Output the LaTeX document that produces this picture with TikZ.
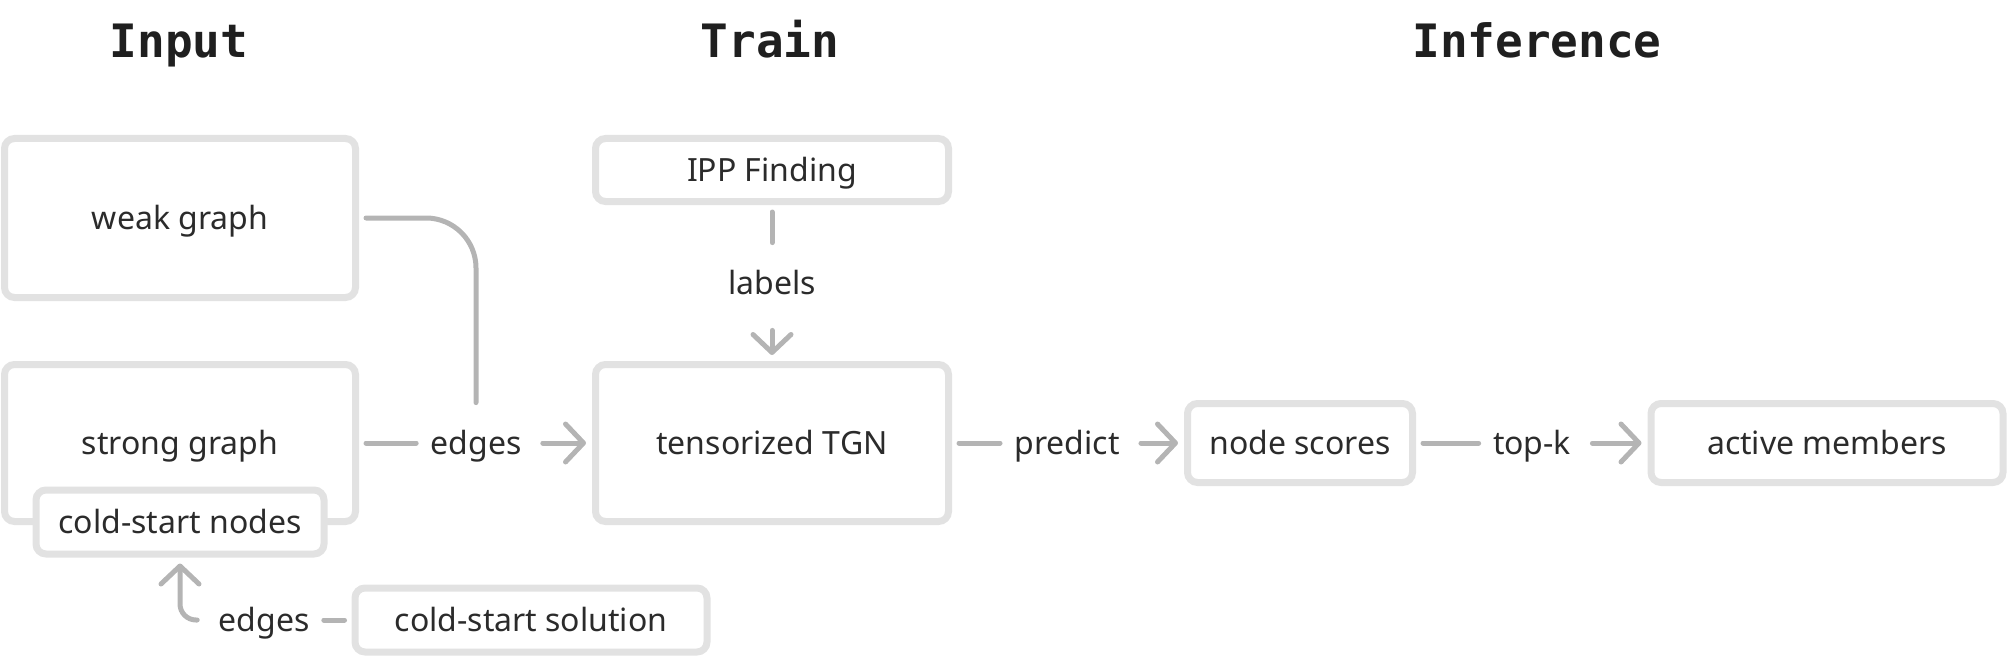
\documentclass[tikz,border=0pt]{standalone}
\usepackage{fontspec}
\setmainfont{Noto Sans}
\newfontfamily\titlefont{DejaVu Sans Mono}
\usetikzlibrary{arrows.meta,calc}
\definecolor{boxgray}{HTML}{E2E2E2}
\definecolor{linegray}{HTML}{B4B4B4}
\definecolor{txtgray}{HTML}{2B2B2B}
\tikzset{
  box/.style = {draw=boxgray, line width=3.5pt, rounded corners=5pt, fill=white,
    inner sep=0pt, text=txtgray, font=\fontsize{16}{18}\selectfont,
    text height=14pt, text depth=3pt},
  lbl/.style = {text=txtgray, font=\fontsize{16}{18}\selectfont,
    inner xsep=7pt, inner ysep=11.5pt, text height=14pt, text depth=3pt},
  conn/.style = {draw=linegray, line width=2.5pt, line cap=round, shorten <=3.5pt},
  arr/.style = {conn, -{Straight Barb[length=9pt,width=19pt,round]}, shorten >=3pt},
  title/.style = {font=\titlefont\bfseries\fontsize{23}{26}\selectfont, text=black!88, anchor=base}
}

\begin{document}
\begin{tikzpicture}[x=0.5pt,y=-0.5pt]
  \useasboundingbox (0,0) rectangle (2008,658);
  % titles
  \node[title] (tinput) at (179,58) {Input};
  \node[title] (ttrain) at (770,58) {Train};
  \node[title] (tinfer) at (1537,58) {Inference};
  % input
  \node[box, minimum width=175.5pt, minimum height=79.5pt] (weak) at (180,218) {weak graph};
  \node[box, minimum width=175.5pt, minimum height=78.5pt] (strong) at (180,443) {strong graph};
  \node[box, minimum width=144pt, minimum height=32pt] (csnodes) at (180,522) {cold-start nodes};
  \node[box, minimum width=176pt, minimum height=32pt] (cssol) at (531,620) {cold-start solution};
  % train
  \node[box, minimum width=176.5pt, minimum height=31.5pt] (ipp) at (772,170) {IPP Finding};
  \node[box, minimum width=176.5pt, minimum height=78.5pt] (tgn) at (772,443) {tensorized TGN};
  % inference
  \node[box, minimum width=112.5pt, minimum height=39.5pt] (scores) at (1300,443) {node scores};
  \node[box, minimum width=176pt, minimum height=39.5pt] (active) at (1827,443) {active members};
  % labels
  \node[lbl] (edgesa) at (476,443) {edges};
  \node[lbl] (labels) at (772,283) {labels};
  \node[lbl] (predict) at (1067,443) {predict};
  \node[lbl] (topk) at (1532,443) {top-k};
  \node[lbl] (edgesb) at (264,620) {edges};
  % connectors
  \draw[conn, rounded corners=25pt] (weak.east) -| (edgesa.north);
  \draw[conn] (strong) -- (edgesa);
  \draw[arr] (edgesa) -- (tgn);
  \draw[conn] (ipp) -- (labels);
  \draw[arr] (labels) -- (tgn);
  \draw[conn] (tgn) -- (predict);
  \draw[arr] (predict) -- (scores);
  \draw[conn] (scores) -- (topk);
  \draw[arr] (topk) -- (active);
  \draw[conn] (cssol) -- (edgesb);
  \draw[arr, rounded corners=8pt] (edgesb.west) -| (csnodes.south);
\end{tikzpicture}
\end{document}
